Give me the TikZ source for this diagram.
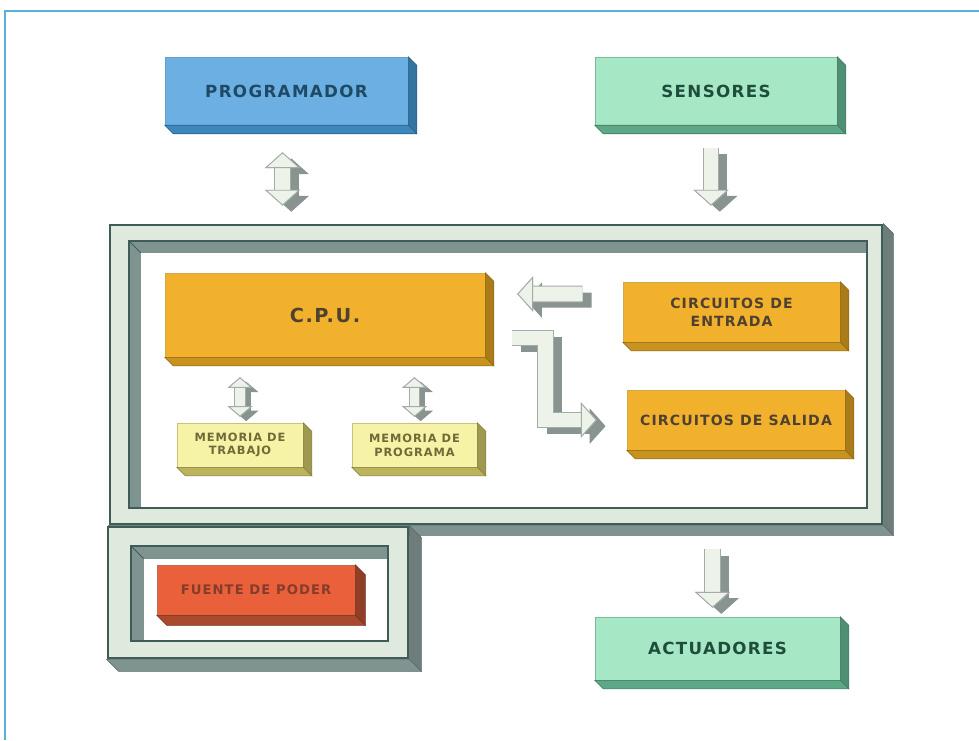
\documentclass[tikz,border=0pt]{standalone}
\usepackage{fontspec}
\newfontfamily\blkfont[LetterSpace=8]{DejaVu Sans}
\usetikzlibrary{arrows.meta,calc}

\definecolor{progface}{HTML}{6CAFE2}
\definecolor{progside}{HTML}{3C88BC}
\definecolor{progtext}{HTML}{1E4A66}
\definecolor{mintface}{HTML}{A6E8C6}
\definecolor{mintside}{HTML}{5DA887}
\definecolor{minttext}{HTML}{1E4E3B}
\definecolor{cpuface}{HTML}{F2B12C}
\definecolor{cpuside}{HTML}{C8921E}
\definecolor{cputext}{HTML}{4E4130}
\definecolor{memface}{HTML}{F7F3A6}
\definecolor{memside}{HTML}{BBB35E}
\definecolor{memtext}{HTML}{6E6B38}
\definecolor{pwrface}{HTML}{E9603B}
\definecolor{pwrside}{HTML}{A9492E}
\definecolor{pwrtext}{HTML}{843C2B}
\definecolor{frmface}{HTML}{DFE9DD}
\definecolor{frmline}{HTML}{3E5D57}
\definecolor{frmside}{HTML}{7F9391}
\definecolor{arrface}{HTML}{EDF3E8}
\definecolor{arrline}{HTML}{A3ACA8}
\definecolor{arrside}{HTML}{89938F}
\definecolor{pageline}{HTML}{58B2D8}

% right and bottom faces of a raised block
\newcommand{\extrude}[3][0.17]{%
  \filldraw[fill=#3!85!black, draw=#3!70!black, line width=0.3pt] (#2.north east) -- ++(#1,-#1) -- ($(#2.south east)+(#1,-#1)$) -- (#2.south east) -- cycle;
  \filldraw[fill=#3, draw=#3!70!black, line width=0.3pt] (#2.south east) -- ++(#1,-#1) -- ($(#2.south west)+(#1,-#1)$) -- (#2.south west) -- cycle;}

\begin{document}
\begin{tikzpicture}[
  blk/.style={fill=#1face, text=#1text, draw=#1side!80!white, line width=0.3pt, inner sep=0pt, align=center},
  big/.style={font=\blkfont\bfseries\fontsize{9.5}{11}\selectfont},
  mid/.style={font=\blkfont\bfseries\fontsize{8}{10}\selectfont},
  sml/.style={font=\blkfont\bfseries\fontsize{6.5}{7.8}\selectfont},
  frm/.style={fill=frmface, draw=frmline, line width=1.6pt, inner sep=0pt},
  arr/.style={line width=8.5pt, draw=arrface, line join=miter,
    preaction={draw=arrside, line width=8.5pt, transform canvas={shift={(5pt,-3.5pt)}},
      >={Triangle[width=20pt,length=9pt,line width=0.5pt,color=arrside]}, #1},
    preaction={draw=arrline, line width=9.5pt,
      >={Triangle[width=20pt,length=9pt,line width=0.5pt,color=arrline,fill=arrface]}, #1},
    >={Triangle[width=20pt,length=9pt,line width=0.5pt,color=arrline,fill=arrface]}, #1},
  sarr/.style={line width=5.5pt, draw=arrface,
    preaction={draw=arrside, line width=5.5pt, transform canvas={shift={(3.5pt,-2.5pt)}},
      >={Triangle[width=14pt,length=6pt,line width=0.5pt,color=arrside]}, #1},
    preaction={draw=arrline, line width=6.3pt,
      >={Triangle[width=14pt,length=6pt,line width=0.5pt,color=arrline,fill=arrface]}, #1},
    >={Triangle[width=14pt,length=6pt,line width=0.5pt,color=arrline,fill=arrface]}, #1}
]
\useasboundingbox (0,0) rectangle (19.58,14.8);
\draw[pageline, line width=0.9pt] (0.1,0) -- (0.1,14.58) -- (19.58,14.58);

\node[frm, minimum width=15.44cm, minimum height=5.98cm] (board) at (9.92,7.31) {};
\extrude[0.2]{board}{frmside}
\filldraw[fill=frmside, draw=frmline, line width=1.2pt] ([shift={(0.4,-0.34)}]board.north west) rectangle ([shift={(-0.32,0.34)}]board.south east);
\fill[white] ([shift={(0.64,-0.58)}]board.north west) rectangle ([shift={(-0.32,0.34)}]board.south east);
\draw[frmline, line width=1.2pt] ([shift={(0.4,-0.34)}]board.north west) rectangle ([shift={(-0.32,0.34)}]board.south east);
\draw[frmline, line width=0.5pt] ([shift={(0.4,-0.34)}]board.north west) -- ([shift={(0.64,-0.58)}]board.north west);

\node[frm, minimum width=6cm, minimum height=2.62cm] (psu) at (5.16,2.95) {};
\extrude[0.24]{psu}{frmside}
\filldraw[fill=frmside, draw=frmline, line width=1.2pt] ([shift={(0.48,-0.4)}]psu.north west) rectangle ([shift={(-0.42,0.36)}]psu.south east);
\fill[white] ([shift={(0.74,-0.66)}]psu.north west) rectangle ([shift={(-0.42,0.36)}]psu.south east);
\draw[frmline, line width=1.2pt] ([shift={(0.48,-0.4)}]psu.north west) rectangle ([shift={(-0.42,0.36)}]psu.south east);
\draw[frmline, line width=0.5pt] ([shift={(0.48,-0.4)}]psu.north west) -- ([shift={(0.74,-0.66)}]psu.north west);

\node[blk=prog, big, minimum width=4.86cm, minimum height=1.36cm] (prog) at (5.73,12.98) {PROGRAMADOR};
\extrude{prog}{progside}
\node[blk=mint, big, minimum width=4.84cm, minimum height=1.36cm] (sens) at (14.32,12.98) {SENSORES};
\extrude{sens}{mintside}
\node[blk=cpu, font=\blkfont\bfseries\fontsize{11}{13}\selectfont, minimum width=6.4cm, minimum height=1.68cm] (cpu) at (6.5,8.5) {C.P.U.};
\extrude{cpu}{cpuside}
\node[blk=mem, sml, minimum width=2.52cm, minimum height=0.88cm] (memt) at (4.8,5.9) {MEMORIA DE\\TRABAJO};
\extrude{memt}{memside}
\node[blk=mem, sml, minimum width=2.5cm, minimum height=0.88cm] (memp) at (8.29,5.9) {MEMORIA DE\\PROGRAMA};
\extrude{memp}{memside}
\node[blk=cpu, mid, minimum width=4.34cm, minimum height=1.2cm] (cin) at (14.63,8.56) {CIRCUITOS DE\\ENTRADA};
\extrude{cin}{cpuside}
\node[blk=cpu, mid, minimum width=4.36cm, minimum height=1.2cm] (cout) at (14.72,6.4) {CIRCUITOS DE SALIDA};
\extrude{cout}{cpuside}
\node[blk=pwr, font=\blkfont\bfseries\fontsize{7.5}{9}\selectfont, minimum width=3.96cm, minimum height=1cm] (pwr) at (5.12,3) {FUENTE DE PODER};
\extrude[0.2]{pwr}{pwrside}
\node[blk=mint, big, minimum width=4.9cm, minimum height=1.26cm] (act) at (14.35,1.83) {ACTUADORES};
\extrude{act}{mintside}

\draw[arr=<->] ([xshift=-0.08cm,yshift=-0.54cm]prog.south) -- ([xshift=-0.08cm,yshift=0.36cm]board.north -| prog.south);
\draw[arr=->] ([xshift=-0.1cm,yshift=-0.46cm]sens.south) -- ([xshift=-0.1cm,yshift=0.36cm]board.north -| sens.south);
\draw[arr=->] ([xshift=-0.1cm,yshift=-0.48cm]board.south -| act.north) -- ([xshift=-0.1cm,yshift=0.18cm]act.north);
\draw[arr=->] ([xshift=-0.8cm,yshift=0.36cm]cin.west) -- ([xshift=0.64cm,yshift=0.42cm]cpu.east);
\draw[arr=->] ([xshift=0.54cm,yshift=-0.46cm]cpu.east) -- ++(0.66,0) |- ([xshift=-0.6cm]cout.west);
\draw[sarr=<->] ([yshift=-0.4cm]cpu.south -| memt.north) -- ([yshift=0.12cm]memt.north);
\draw[sarr=<->] ([yshift=-0.4cm]cpu.south -| memp.north) -- ([yshift=0.12cm]memp.north);
\end{tikzpicture}
\end{document}
